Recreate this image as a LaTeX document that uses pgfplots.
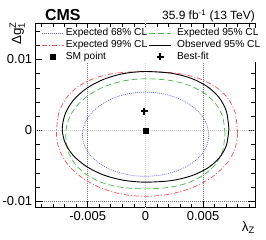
\documentclass[border=0pt]{standalone}
\usepackage{fontspec}
\setmainfont{Liberation Sans}
\usepackage{amsmath}
\usepackage{pgfplots}
\pgfplotsset{compat=1.18}
\definecolor{blueC}{RGB}{90,90,240}
\definecolor{greenC}{RGB}{70,185,70}
\definecolor{redC}{RGB}{245,80,80}
\pgfplotsset{markleg/.style={legend image code/.code={\draw[##1] plot coordinates {(11bp,0bp)};}},
  linleg/.style={legend image code/.code={\draw[##1] (0bp,0bp) -- (22bp,0bp);}}}
\begin{document}
\begin{tikzpicture}
\path[use as bounding box] (-35.7bp,-32.3bp) rectangle (230.3bp,207.7bp);
\begin{axis}[name=ax, at={(0,0)}, anchor=south west,
  scale only axis, width=219.3bp, height=184.4bp,
  xmin=-0.0095, xmax=0.0095, ymin=-0.0109, ymax=0.0151,
  scaled ticks=false,
  xtick={-0.005,0,0.005}, xticklabels={-0.005,0,0.005},
  ytick={-0.01,0,0.01}, yticklabels={-0.01,0,0.01},
  minor xtick={-0.009,-0.008,-0.007,-0.006,-0.004,-0.003,-0.002,-0.001,0.001,0.002,0.003,0.004,0.006,0.007,0.008,0.009},
  minor ytick={-0.008,-0.006,-0.004,-0.002,0.002,0.004,0.006,0.008,0.012,0.014},
  tick align=inside, tick pos=both,
  major tick length=7bp, minor tick length=4bp,
  tick style={black, line width=0.5bp},
  axis line style={line width=0.6bp},
  ticklabel style={font=\fontsize{13}{13}\selectfont},
  grid=major, major grid style={black!55, line width=0.4bp, dash pattern=on 0.8bp off 1.2bp},
  legend columns=2, legend cell align=left,
  legend style={at={(0.0274,0.9734)}, anchor=north west, draw=none, fill=white,
    inner sep=0pt, outer sep=0pt,
    row sep=1.8bp,
    nodes={font=\fontsize{10.2}{12}\selectfont, inner xsep=1.5bp, inner ysep=0pt, text height=7.5bp, text depth=2.5bp},
    /tikz/column 3/.style={column sep=4bp}},
]
\draw[gray!40, line width=1.3bp, dash pattern=on 1bp off 1bp] (axis cs:0,-0.0109) -- (axis cs:0,0.0151);
\draw[gray!40, line width=1.3bp, dash pattern=on 1bp off 1bp] (axis cs:-0.0095,0) -- (axis cs:0.0095,0);
\addplot[blueC, line width=0.7bp, dash pattern=on 0.9bp off 1.1bp, smooth, linleg] coordinates {
(0.00550,-0.00070) (0.00531,0.00088) (0.00476,0.00235) (0.00389,0.00361) (0.00275,0.00458)
(0.00142,0.00519) (0.00000,0.00540) (-0.00141,0.00519) (-0.00273,0.00458) (-0.00385,0.00361)
(-0.00472,0.00235) (-0.00526,0.00088) (-0.00545,-0.00070) (-0.00526,-0.00220) (-0.00472,-0.00359)
(-0.00385,-0.00479) (-0.00273,-0.00570) (-0.00141,-0.00628) (0.00000,-0.00648) (0.00142,-0.00628)
(0.00275,-0.00570) (0.00389,-0.00479) (0.00476,-0.00359) (0.00531,-0.00220) (0.00550,-0.00070)};
\addlegendentry{Expected 68\% CL}
\addplot[greenC, line width=0.7bp, dash pattern=on 6bp off 3bp, smooth, linleg] coordinates {
(0.00690,-0.00050) (0.00670,0.00190) (0.00609,0.00376) (0.00510,0.00526) (0.00378,0.00636)
(0.00213,0.00705) (0.00000,0.00728) (-0.00179,0.00701) (-0.00345,0.00624) (-0.00488,0.00500)
(-0.00598,0.00339) (-0.00666,0.00151) (-0.00690,-0.00050) (-0.00670,-0.00289) (-0.00609,-0.00474)
(-0.00510,-0.00623) (-0.00378,-0.00734) (-0.00213,-0.00802) (0.00000,-0.00825) (0.00213,-0.00802)
(0.00378,-0.00734) (0.00510,-0.00623) (0.00609,-0.00474) (0.00670,-0.00289) (0.00690,-0.00050)};
\addlegendentry{Expected 95\% CL}
\addplot[redC, line width=0.7bp, dash pattern=on 5bp off 2bp on 1bp off 2bp, smooth, linleg] coordinates {
(0.00800,-0.00050) (0.00778,0.00248) (0.00713,0.00455) (0.00606,0.00617) (0.00460,0.00734)
(0.00271,0.00806) (0.00000,0.00830) (-0.00261,0.00806) (-0.00442,0.00734) (-0.00584,0.00617)
(-0.00686,0.00455) (-0.00749,0.00248) (-0.00770,-0.00050) (-0.00744,-0.00278) (-0.00667,-0.00490)
(-0.00544,-0.00672) (-0.00385,-0.00812) (-0.00199,-0.00900) (0.00000,-0.00930) (0.00207,-0.00900)
(0.00400,-0.00812) (0.00566,-0.00672) (0.00693,-0.00490) (0.00773,-0.00278) (0.00800,-0.00050)};
\addlegendentry{Expected 99\% CL}
\addplot[black, line width=0.9bp, smooth, linleg] coordinates {
(0.00724,0.00020) (0.00702,0.00270) (0.00639,0.00463) (0.00536,0.00619) (0.00396,0.00735)
(0.00224,0.00806) (0.00000,0.00830) (-0.00186,0.00802) (-0.00360,0.00721) (-0.00509,0.00593)
(-0.00624,0.00425) (-0.00695,0.00230) (-0.00720,0.00020) (-0.00695,-0.00174) (-0.00624,-0.00355)
(-0.00509,-0.00510) (-0.00360,-0.00630) (-0.00186,-0.00704) (0.00000,-0.00730) (0.00224,-0.00708)
(0.00396,-0.00642) (0.00536,-0.00535) (0.00639,-0.00390) (0.00702,-0.00212) (0.00724,0.00020)};
\addlegendentry{Observed 95\% CL}
\addplot[only marks, mark=square*, mark size=2.5bp, black, markleg] coordinates {(0,0)};
\addlegendentry{SM point}
\addplot[only marks, mark=+, mark size=3.5bp, black, mark options={line width=2.2bp}, markleg] coordinates {(-0.0001,0.00268)};
\addlegendentry{Best-fit}
\end{axis}
\node[rotate=90, anchor=south east, inner sep=0pt, font=\fontsize{13.5}{13.5}\selectfont] at ([xshift=-10.7bp, yshift=1.6bp]ax.north west) {Δg$_{\text{1}}^{\text{Z}}$};
\node[anchor=north east, inner sep=0pt, font=\fontsize{13.5}{13.5}\selectfont] at ([yshift=-13.5bp]ax.south east) {λ$_{\text{Z}}$};
\node[anchor=base west, inner sep=0pt, font=\bfseries\fontsize{16}{16}\selectfont] at ([xshift=9.3bp, yshift=2.5bp]ax.north west) {CMS};
\node[anchor=base east, inner sep=0pt, font=\fontsize{12}{12}\selectfont] at ([yshift=3.8bp]ax.north east) {35.9 fb$^{\text{-1}}$ (13 TeV)};
\end{tikzpicture}
\end{document}
